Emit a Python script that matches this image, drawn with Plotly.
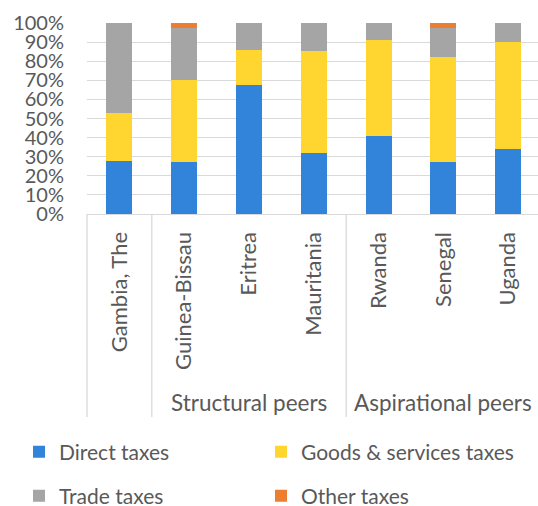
import plotly.graph_objects as go

# Tax revenue composition (% of total tax revenue)
countries = ["Gambia, The", "Guinea-Bissau", "Eritrea", "Mauritania",
             "Rwanda", "Senegal", "Uganda"]
direct_taxes = [27.8, 27.4, 67.6, 32.1, 40.9, 27.4, 34.1]
goods_services_taxes = [25.0, 42.9, 18.4, 53.0, 50.3, 54.6, 56.1]
trade_taxes = [47.2, 27.1, 14.0, 14.9, 8.8, 15.2, 9.8]
other_taxes = [0.0, 2.6, 0.0, 0.0, 0.0, 2.8, 0.0]

# Peer groups: label, first and last category index
peer_groups = [("Structural peers", 1, 3), ("Aspirational peers", 4, 6)]
y_ticks = list(range(0, 101, 10))
y_tick_labels = [f"{v}%" for v in y_ticks]

FONT = "Lato"
TEXT = "#595959"
GRID = "#D9D9D9"

W, H = 538, 506
m_l, m_r, m_t, m_b = 87, 0, 23, 292
plot_w = W - m_l - m_r
plot_h = H - m_t - m_b

def paper_x(px):
    return (px - m_l) / plot_w

def paper_y(px):
    return (H - m_b - px) / plot_h

# one legend box per entry, laid out as a 2 x 2 grid under the chart
series = [
    ("Direct taxes", direct_taxes, "#3283DA", "legend", (19, 452)),
    ("Goods & services taxes", goods_services_taxes, "#FFD530", "legend2", (261, 452)),
    ("Trade taxes", trade_taxes, "#A5A5A5", "legend3", (19, 496)),
    ("Other taxes", other_taxes, "#ED7D31", "legend4", (261, 496)),
]

fig = go.Figure()
legends = {}
for name, values, color, legend_id, (lx, ly) in series:
    fig.add_bar(x=countries, y=values, name=name, marker_color=color,
                marker_line_width=0, legend=legend_id, showlegend=True)
    legends[legend_id] = dict(orientation="h", xref="paper", yref="paper",
                              x=paper_x(lx), y=paper_y(ly),
                              xanchor="left", yanchor="middle",
                              font=dict(family=FONT, size=21, color=TEXT),
                              bgcolor="rgba(0,0,0,0)")

shapes = []
# category group dividers below the axis
divider_bottom = paper_y(417)
shapes.append(dict(type="line", xref="paper", yref="paper", x0=0, x1=0,
                   y0=0, y1=divider_bottom, line=dict(color=GRID, width=1.3)))
for _, first, _last in peer_groups:
    shapes.append(dict(type="line", xref="x", yref="paper", x0=first - 0.5,
                       x1=first - 0.5, y0=0, y1=divider_bottom,
                       line=dict(color=GRID, width=1.3)))

annotations = []
for label, first, last in peer_groups:
    annotations.append(dict(text=label, xref="x", yref="paper",
                            x=(first + last) / 2, y=paper_y(402),
                            xanchor="center", yanchor="middle", showarrow=False,
                            font=dict(family=FONT, size=22.5, color=TEXT)))

fig.update_layout(
    width=W, height=H,
    margin=dict(l=m_l, r=m_r, t=m_t, b=m_b, autoexpand=False),
    barmode="stack", bargap=0.6, showlegend=True,
    plot_bgcolor="white", paper_bgcolor="white",
    font=dict(family=FONT, color=TEXT),
    shapes=shapes, annotations=annotations,
    xaxis=dict(type="category", range=[-0.5, 6.46], tickangle=-90,
               tickfont=dict(family=FONT, size=22, color=TEXT),
               showline=True, linecolor=GRID, linewidth=1.3,
               ticks="", showgrid=False, ticklabelstandoff=8),
    yaxis=dict(range=[0, 100], tickmode="array", tickvals=y_ticks,
               ticktext=y_tick_labels,
               tickfont=dict(family=FONT, size=20, color=TEXT),
               showgrid=True, gridcolor=GRID, gridwidth=1.3,
               zeroline=False, ticks="", ticklabelstandoff=22),
    **legends,
)

fig.write_html("out.html")
